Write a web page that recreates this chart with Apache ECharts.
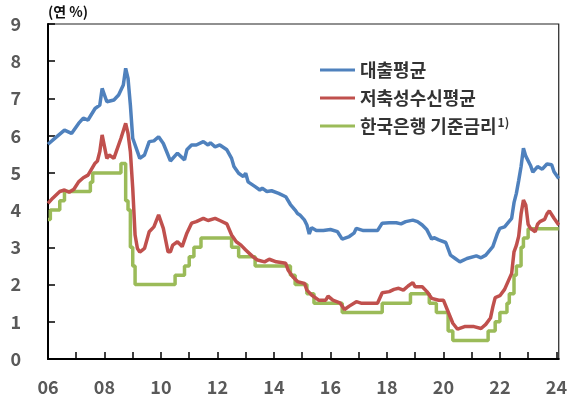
<!DOCTYPE html>
<html><head><meta charset="utf-8">
<script src="https://cdn.jsdelivr.net/npm/echarts@6/dist/echarts.min.js"></script>
<style>html,body{margin:0;padding:0;background:#fff}#c{width:570px;height:405px}</style>
</head><body><div id="c"></div>
<script>
const seriesNames = ['대출평균', '저축성수신평균', '한국은행 기준금리'];
const yTickLabels = ['0','1','2','3','4','5','6','7','8','9'];

const loanDates = ['2006-01','2006-03','2006-08','2006-11','2007-02','2007-04','2007-06','2007-09','2007-11','2007-12','2008-02','2008-05','2008-07','2008-09','2008-10','2008-11','2008-12','2009-01','2009-03','2009-04','2009-06','2009-08','2009-10','2009-12','2010-02','2010-04','2010-05','2010-08','2010-11','2010-12','2011-02','2011-04','2011-07','2011-09','2011-10','2011-12','2012-02','2012-05','2012-07','2012-08','2012-10','2012-12','2013-01','2013-02','2013-05','2013-07','2013-08','2013-10','2013-12','2014-03','2014-06','2014-08','2014-10','2014-11','2014-12','2015-02','2015-03','2015-04','2015-05','2015-07','2015-10','2016-01','2016-04','2016-06','2016-09','2016-11','2016-12','2017-03','2017-06','2017-09','2017-11','2018-02','2018-05','2018-07','2018-09','2018-12','2019-02','2019-04','2019-06','2019-08','2019-09','2019-11','2020-02','2020-04','2020-06','2020-08','2020-11','2021-03','2021-05','2021-07','2021-10','2021-12','2022-01','2022-03','2022-06','2022-07','2022-08','2022-09','2022-10','2022-11','2022-12','2023-02','2023-03','2023-05','2023-07','2023-09','2023-11','2023-12','2024-02'];
const loanValues = [5.77,5.88,6.15,6.06,6.33,6.47,6.42,6.73,6.82,7.27,6.91,6.96,7.09,7.36,7.81,7.54,6.82,5.93,5.57,5.39,5.48,5.84,5.86,5.97,5.79,5.48,5.32,5.53,5.35,5.62,5.75,5.75,5.84,5.75,5.81,5.70,5.75,5.62,5.39,5.17,4.99,4.90,4.99,4.76,4.63,4.54,4.59,4.50,4.52,4.45,4.36,4.15,4.00,3.91,3.87,3.73,3.60,3.36,3.53,3.45,3.45,3.48,3.42,3.22,3.29,3.38,3.51,3.45,3.45,3.45,3.65,3.66,3.66,3.63,3.69,3.73,3.69,3.60,3.47,3.22,3.26,3.20,3.13,2.79,2.70,2.61,2.70,2.77,2.72,2.79,3.02,3.38,3.51,3.55,3.78,4.20,4.45,4.80,5.17,5.66,5.45,5.20,5.02,5.17,5.10,5.24,5.22,5.03,4.85];

const depositDates = ['2006-01','2006-03','2006-06','2006-08','2006-10','2006-12','2007-02','2007-04','2007-06','2007-09','2007-10','2007-11','2007-12','2008-02','2008-03','2008-05','2008-06','2008-08','2008-10','2008-11','2008-12','2009-01','2009-02','2009-03','2009-04','2009-06','2009-08','2009-10','2009-12','2010-02','2010-04','2010-05','2010-06','2010-08','2010-10','2010-12','2011-02','2011-04','2011-07','2011-09','2011-12','2012-02','2012-05','2012-07','2012-09','2012-11','2013-01','2013-04','2013-06','2013-09','2013-11','2014-02','2014-06','2014-07','2014-09','2014-11','2015-02','2015-03','2015-05','2015-08','2015-11','2015-12','2016-02','2016-05','2016-07','2016-09','2016-12','2017-02','2017-09','2017-11','2018-02','2018-04','2018-06','2018-08','2018-10','2018-12','2019-01','2019-04','2019-06','2019-08','2019-11','2020-01','2020-03','2020-05','2020-07','2020-10','2021-02','2021-05','2021-07','2021-09','2021-10','2021-11','2022-01','2022-03','2022-06','2022-07','2022-08','2022-09','2022-10','2022-11','2022-12','2023-01','2023-02','2023-04','2023-05','2023-06','2023-08','2023-09','2023-10','2023-12','2024-02'];
const depositValues = [4.18,4.32,4.50,4.54,4.48,4.56,4.76,4.87,4.94,5.26,5.32,5.57,6.02,5.39,5.48,5.39,5.57,5.93,6.33,6.06,5.57,4.59,3.33,2.97,2.87,2.97,3.42,3.55,3.87,3.51,2.88,2.88,3.06,3.15,3.02,3.38,3.65,3.69,3.78,3.72,3.78,3.72,3.63,3.33,3.15,3.06,2.93,2.75,2.66,2.61,2.68,2.61,2.57,2.39,2.21,2.08,2.03,1.85,1.72,1.58,1.58,1.69,1.58,1.51,1.33,1.42,1.54,1.50,1.50,1.78,1.81,1.87,1.90,1.85,1.96,2.05,1.94,1.94,1.81,1.63,1.58,1.58,1.27,0.96,0.80,0.87,0.87,0.82,0.93,1.10,1.40,1.65,1.70,1.87,2.30,2.88,3.05,3.30,3.90,4.27,4.14,3.62,3.51,3.42,3.62,3.69,3.75,3.90,3.98,3.78,3.60];

const baseDates = ['2006-01','2006-02','2006-06','2006-08','2007-07','2007-08','2008-08','2008-10','2008-11','2008-12','2009-01','2009-02','2010-07','2010-11','2011-01','2011-03','2011-06','2012-07','2012-10','2013-05','2014-08','2014-10','2015-03','2015-06','2016-06','2017-11','2018-11','2019-07','2019-10','2020-03','2020-05','2021-08','2021-11','2022-01','2022-04','2022-05','2022-07','2022-08','2022-10','2022-11','2023-01','2024-02'];
const baseValues = [3.75,4.00,4.25,4.50,4.75,5.00,5.25,4.25,4.00,3.00,2.50,2.00,2.25,2.50,2.75,3.00,3.25,3.00,2.75,2.50,2.25,2.00,1.75,1.50,1.25,1.50,1.75,1.50,1.25,0.75,0.50,0.75,1.00,1.25,1.50,1.75,2.25,2.50,3.00,3.25,3.50,3.50];

function toYear(s) { const p = s.split('-').map(Number); return p[0] + (p[1] - 1) / 12; }
function pairs(d, v) { return d.map((s, i) => [toYear(s), v[i]]); }

const colors = ['#4F81BD', '#C0504D', '#9BBB59'];
const FONT = '"Noto Sans CJK KR", "Noto Sans", sans-serif';

const chart = echarts.init(document.getElementById('c'), null, {renderer: 'canvas'});
chart.setOption({
  animation: false,
  backgroundColor: '#fff',
  textStyle: {fontFamily: FONT},
  grid: {left: 48, right: 11, top: 24, bottom: 46, show: true, borderColor: '#222', borderWidth: 1.2, backgroundColor: 'transparent'},
  graphic: [{type: 'text', left: 48, top: 5, style: {text: '(연 %)', font: 'bold 14px ' + FONT, fill: '#111'}}],
  legend: {
    orient: 'vertical', left: 315, top: 55,
    itemWidth: 35, itemHeight: 3, itemGap: 8, icon: 'rect',
    data: seriesNames,
    formatter: n => n === seriesNames[2] ? n + '{sup|1)}' : n,
    textStyle: {fontSize: 18, fontWeight: 'bold', color: '#333', fontFamily: FONT, lineHeight: 20,
      rich: {sup: {fontSize: 12, fontWeight: 'bold', color: '#333', fontFamily: FONT, verticalAlign: 'top', padding: [0, 0, 9, 1]}}}
  },
  xAxis: {
    type: 'value', min: 2006, max: 2024 + 1/12, interval: 1,
    axisLine: {show: true, onZero: false, lineStyle: {color: '#000', width: 2}},
    axisTick: {show: true, inside: true, length: 7, lineStyle: {color: '#000', width: 1.5}},
    axisLabel: {showMaxLabel: false, margin: 19, fontSize: 18, fontWeight: 'bold', color: '#595959', fontFamily: FONT,
      formatter: v => (Math.abs(v - Math.round(v)) < 1e-6 && Math.round(v) % 2 === 0) ? String(Math.round(v) % 100).padStart(2, '0') : ''},
    splitLine: {show: false}
  },
  yAxis: {
    type: 'value', min: 0, max: 9, interval: 1,
    axisLine: {show: true, lineStyle: {color: '#000', width: 2}},
    axisTick: {show: true, inside: true, length: 7, lineStyle: {color: '#000', width: 1.5}},
    axisLabel: {margin: 27, fontSize: 18, fontWeight: 'bold', color: '#595959', fontFamily: FONT,
      formatter: v => yTickLabels[Math.round(v)]},
    splitLine: {show: false}
  },
  series: [
    {name: seriesNames[0], type: 'line', data: pairs(loanDates, loanValues), showSymbol: false, symbol: 'none', lineStyle: {width: 3.5, color: colors[0]}, itemStyle: {color: colors[0]}, z: 3},
    {name: seriesNames[2], type: 'line', data: pairs(baseDates, baseValues), step: 'end', showSymbol: false, symbol: 'none', lineStyle: {width: 3.5, color: colors[2]}, itemStyle: {color: colors[2]}, z: 2},
    {name: seriesNames[1], type: 'line', data: pairs(depositDates, depositValues), showSymbol: false, symbol: 'none', lineStyle: {width: 3.5, color: colors[1]}, itemStyle: {color: colors[1]}, z: 3}
  ]
});
</script></body></html>
